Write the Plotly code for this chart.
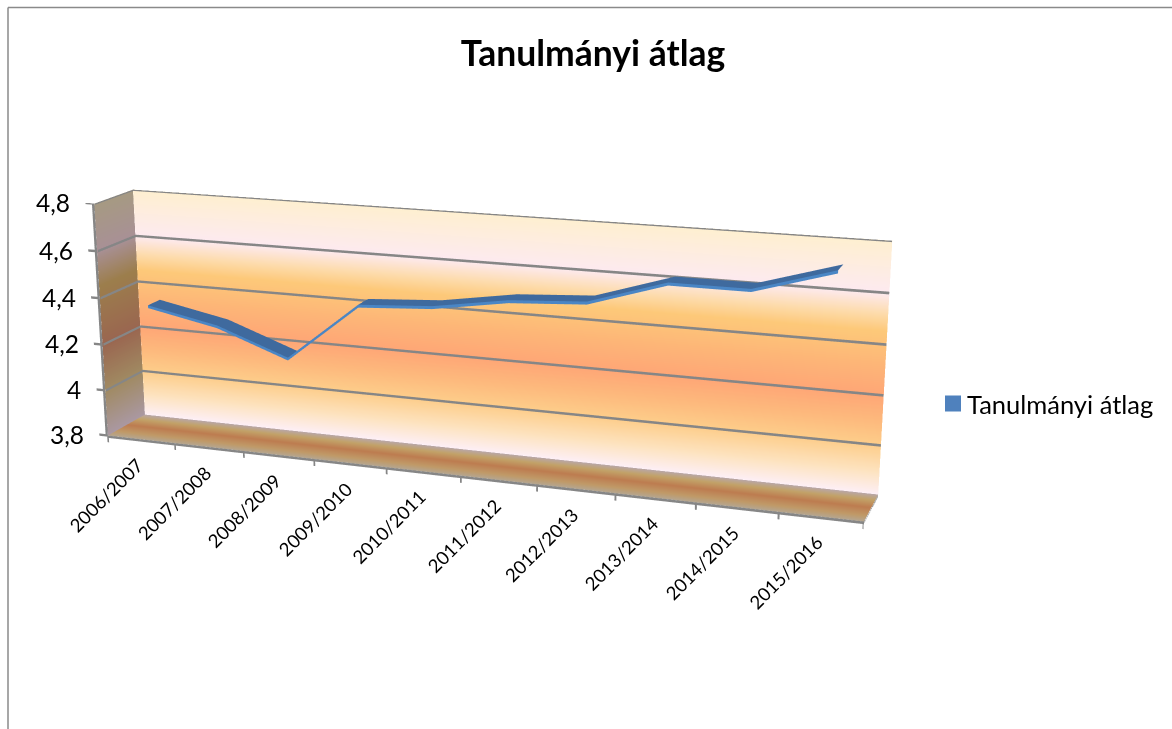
import plotly.graph_objects as go

title = "Tanulmányi átlag"
categories = ["2006/2007", "2007/2008", "2008/2009", "2009/2010", "2010/2011",
              "2011/2012", "2012/2013", "2013/2014", "2014/2015", "2015/2016"]
values = [4.355, 4.295, 4.185, 4.435, 4.455, 4.505, 4.525, 4.625, 4.625, 4.72]
z_ticks = [3.8, 4.0, 4.2, 4.4, 4.6, 4.8]
z_labels = ["3,8", "4", "4,2", "4,4", "4,6", "4,8"]

wall_stops = [(0, "#fdeff5"), (0.09, "#fde3c0"), (0.2, "#fdcd8a"), (0.3, "#fdb87c"), (0.4, "#fea676"),
              (0.5, "#fdb377"), (0.65, "#fdc979"), (0.72, "#fddcae"), (0.8, "#fdeaf0"), (1, "#feefd0")]
side_stops = [(0, "#aa98a2"), (0.2, "#a08a62"), (0.4, "#9a6650"), (0.65, "#9c7e4c"), (0.8, "#a89096"), (1, "#a69a82")]
floor_stops = [(0, "#b5a690"), (0.2, "#c09a68"), (0.5, "#bd7c50"), (0.78, "#c2a268"), (1, "#b9a7a8")]

W, H, TOP = 1172, 1695, 444
GRID = "#868686"
RIB_Y = (0.36, 0.68)

def py(v):
    return 1 - (v + TOP) / H

x_rng = [-0.2, 10.0]
y_rng = [0.0, 1.0]
z_rng = [3.75, 4.8]
base = dict(x=1.0 / 10, y=0.1008, z=0.3125)
aspect = dict(x=base["x"] * (x_rng[1] - x_rng[0]), y=base["y"] * (y_rng[1] - y_rng[0]),
              z=base["z"] * (z_rng[1] - z_rng[0]))
shift = dict(x=base["x"] * (sum(x_rng) / 2 - 5), y=base["y"] * (sum(y_rng) / 2 - 0.5), z=base["z"] * (sum(z_rng) / 2 - 4.3))
eye0 = dict(x=0.847, y=-2.311, z=0.663)
cen0 = dict(x=-0.0132, y=-0.0272, z=-0.0703)
eye = {k: eye0[k] - shift[k] for k in "xyz"}
cen = {k: cen0[k] - shift[k] for k in "xyz"}

flat = dict(ambient=1, diffuse=0, specular=0, fresnel=0, roughness=1)
steps = [i / 40 for i in range(41)]
fig = go.Figure()

def surf(xs, ys, zs, col, stops):
    fig.add_trace(go.Surface(x=xs, y=ys, z=zs, surfacecolor=col, colorscale=[list(s) for s in stops], cmin=0, cmax=1,
                             showscale=False, lighting=flat, hoverinfo="skip"))

def strip(xs, ys, zs, d, color=GRID):
    """Thick line: WebGL lines stay 1px, so draw a thin constant-colour band offset by d=(dx,dy,dz)."""
    n = len(xs)
    fig.add_trace(go.Surface(
        x=[xs, [a + d[0] for a in xs]], y=[ys, [a + d[1] for a in ys]], z=[zs, [a + d[2] for a in zs]],
        surfacecolor=[[0] * n, [0] * n], colorscale=[[0, color], [1, color]], cmin=0, cmax=1,
        showscale=False, lighting=flat, hoverinfo="skip"))

# back wall, side wall, floor
surf([[0, 10] for _ in steps], [[1, 1] for _ in steps], [[3.8 + s, 3.8 + s] for s in steps],
     [[s, s] for s in steps], wall_stops)
surf([[0, 0] for _ in steps], [[0, 1] for _ in steps], [[3.8 + s, 3.8 + s] for s in steps],
     [[s, s] for s in steps], side_stops)
surf([[0, 10] for _ in steps], [[s, s] for s in steps], [[3.8, 3.8] for _ in steps],
     [[s, s] for s in steps], floor_stops)

TH = 0.0105
for t in z_ticks:
    strip([-0.13, 0.0], [0.0, 0.0], [t - TH / 2] * 2, (0, 0, TH))
    if t > z_ticks[0]:
        strip([0.01, 10], [0.99, 0.99], [t - TH / 2] * 2, (0, 0, TH))
        strip([0.01, 0.01], [0.0, 0.99], [t - TH / 2] * 2, (0, 0, TH))
strip([-0.035, -0.035], [0.0, 0.0], [3.8, 4.8], (0.035, 0, 0))
strip([0, 10], [0.0, 0.0], [3.8 - TH, 3.8 - TH], (0, 0, TH))
strip([10, 10], [0.0, 1.0], [3.8 - TH, 3.8 - TH], (0, 0, TH))
for i in range(11):
    strip([i - 0.012, i - 0.012], [0.0, 0.0], [3.77, 3.8], (0.024, 0, 0))

# series ribbon
cx = [i + 0.5 for i in range(len(values))]
fig.add_trace(go.Surface(x=cx, y=list(RIB_Y), z=[values, values], surfacecolor=[[0] * len(values)] * 2,
                         colorscale=[[0, "#3f6a9e"], [1, "#3f6a9e"]], cmin=0, cmax=1, showscale=False,
                         lighting=flat, hoverinfo="skip"))
strip(cx, [RIB_Y[0]] * len(cx), values, (0, 0, -0.012), color="#4a86c5")

# legend entry
fig.add_trace(go.Scatter3d(x=[None], y=[None], z=[None], mode="markers", name=title,
                           marker=dict(symbol="square", size=17, color="#4f81bd"), showlegend=True))

ann = []
for c, lab in zip(cx, categories):
    ann.append(dict(x=c, y=0, z=3.8, text=lab, textangle=-45, showarrow=False, xanchor="right", yanchor="top",
                    xshift=9, yshift=-12, font=dict(family="Lato", size=18.5, color="#000000")))
for t, lab in zip(z_ticks, z_labels):
    ann.append(dict(x=0, y=0, z=t, text=lab, showarrow=False, xanchor="right", yanchor="middle",
                    xshift=-22, yshift=1, font=dict(family="Lato", size=24.5, color="#000000")))

axis = dict(visible=False, showgrid=False, showbackground=False, zeroline=False, showspikes=False)
fig.update_layout(
    width=W, height=H, autosize=False, margin=dict(l=0, r=0, t=0, b=0), paper_bgcolor="white",
    title=dict(text=title, x=593 / W, xanchor="center", y=py(54), yanchor="middle",
               font=dict(family="Lato", size=35.5, color="#000000", weight="bold")),
    legend=dict(x=927 / W, xanchor="left", y=py(404), yanchor="middle", bgcolor="rgba(0,0,0,0)",
                font=dict(family="Lato", size=25.5, color="#000000")),
    scene=dict(domain=dict(x=[0, 914 / W], y=[0, 1]), bgcolor="rgba(0,0,0,0)", aspectmode="manual", aspectratio=aspect,
               xaxis=dict(range=x_rng, **axis), yaxis=dict(range=y_rng, **axis), zaxis=dict(range=z_rng, **axis),
               camera=dict(eye=eye, center=cen, up=dict(x=-0.0946, y=0.2716, z=0.9577),
                           projection=dict(type="perspective")),
               annotations=ann),
    shapes=[dict(type="line", xref="paper", yref="paper", x0=8 / W, x1=1, y0=py(7.5), y1=py(7.5), line=dict(color="#8a8a8a", width=1.5)),
            dict(type="line", xref="paper", yref="paper", x0=8 / W, x1=8 / W, y0=py(7.5), y1=py(729), line=dict(color="#8a8a8a", width=1.5))],
)

post = ("var g=document.getElementById('{plot_id}');g.style.position='absolute';g.style.left='0';g.style.top='-%dpx';"
        "document.body.style.margin='0';document.body.style.overflow='hidden';"
        "document.documentElement.style.overflow='hidden';"
        "g.querySelectorAll('.legendsymbols').forEach(function(e){e.setAttribute('transform','translate(6,0)');});" % TOP)
fig.write_html("out.html", post_script=post, config=dict(displayModeBar=False))
